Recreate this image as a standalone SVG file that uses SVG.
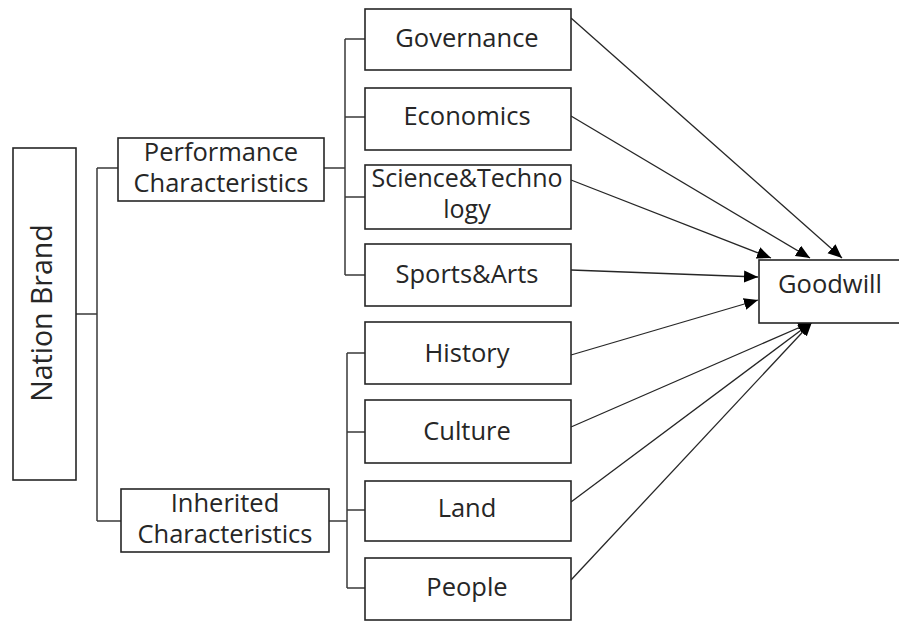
<svg xmlns="http://www.w3.org/2000/svg" width="899" height="621" viewBox="0 0 899 621">
<style>
  .box { fill: #ffffff; stroke: #262626; stroke-width: 1.6; }
  .t { font-family: "Open Sans", "Liberation Sans", sans-serif; font-size: 25.5px; fill: #262626; text-anchor: middle; }
  .br { fill: none; stroke: #3a3a3a; stroke-width: 1.5; }
  .ar { fill: none; stroke: #262626; stroke-width: 1.3; marker-end: url(#ah); }
</style>
<defs>
  <marker id="ah" markerUnits="userSpaceOnUse" markerWidth="15" markerHeight="13" refX="14" refY="6" orient="auto">
    <path d="M0,0 L14,6 L0,12 z" fill="#000000"/>
  </marker>
</defs>
<rect width="899" height="621" fill="#ffffff"/>
<g id="connectors">
  <path class="br" d="M76,314 H97 M97,168 V521 M97,168 H118 M97,521 H121"/>
  <path class="br" d="M324,168 H345 M345,39 V275 M345,39 H365 M345,117 H365 M345,197 H365 M345,275 H365"/>
  <path class="br" d="M329,521 H347 M347,353 V588 M347,353 H365 M347,432 H365 M347,510 H365 M347,588 H365"/>
  <line class="ar" x1="571" y1="18" x2="842" y2="258"/>
  <line class="ar" x1="571" y1="116" x2="810" y2="258"/>
  <line class="ar" x1="571" y1="180" x2="771" y2="258"/>
  <line class="ar" x1="571" y1="270" x2="758" y2="277"/>
  <line class="ar" x1="571" y1="355" x2="758" y2="300"/>
  <line class="ar" x1="571" y1="427" x2="812" y2="322"/>
  <line class="ar" x1="571" y1="502" x2="812" y2="322"/>
  <line class="ar" x1="571" y1="580" x2="812" y2="322"/>
</g>
<g id="nation-brand">
  <rect class="box" x="13" y="148" width="63" height="332"/>
  <text class="t" style="font-size:28.5px" transform="translate(52,313) rotate(-90)">Nation Brand</text>
</g>
<g id="performance">
  <rect class="box" x="118" y="138" width="206" height="63"/>
  <text class="t" x="221" y="161">Performance</text>
  <text class="t" x="221" y="192">Characteristics</text>
</g>
<g id="inherited">
  <rect class="box" x="121" y="489" width="208" height="63"/>
  <text class="t" x="225" y="512">Inherited</text>
  <text class="t" x="225" y="543">Characteristics</text>
</g>
<g id="governance">
  <rect class="box" x="365" y="9" width="206" height="61"/>
  <text class="t" x="467" y="47">Governance</text>
</g>
<g id="economics">
  <rect class="box" x="365" y="88" width="206" height="62"/>
  <text class="t" x="467" y="125">Economics</text>
</g>
<g id="science">
  <rect class="box" x="365" y="165" width="206" height="64"/>
  <text class="t" style="font-size:25px" x="467" y="187">Science&amp;Techno</text>
  <text class="t" style="font-size:25px" x="467" y="218">logy</text>
</g>
<g id="sports">
  <rect class="box" x="365" y="244" width="206" height="62"/>
  <text class="t" x="467" y="283">Sports&amp;Arts</text>
</g>
<g id="history">
  <rect class="box" x="365" y="322" width="206" height="62"/>
  <text class="t" x="467" y="362">History</text>
</g>
<g id="culture">
  <rect class="box" x="365" y="400" width="206" height="63"/>
  <text class="t" x="467" y="440">Culture</text>
</g>
<g id="land">
  <rect class="box" x="365" y="481" width="206" height="60"/>
  <text class="t" x="467" y="517">Land</text>
</g>
<g id="people">
  <rect class="box" x="365" y="558" width="206" height="62"/>
  <text class="t" x="467" y="596">People</text>
</g>
<g id="goodwill">
  <rect class="box" x="759" y="260" width="150" height="63"/>
  <text class="t" x="830" y="293">Goodwill</text>
</g>
</svg>
